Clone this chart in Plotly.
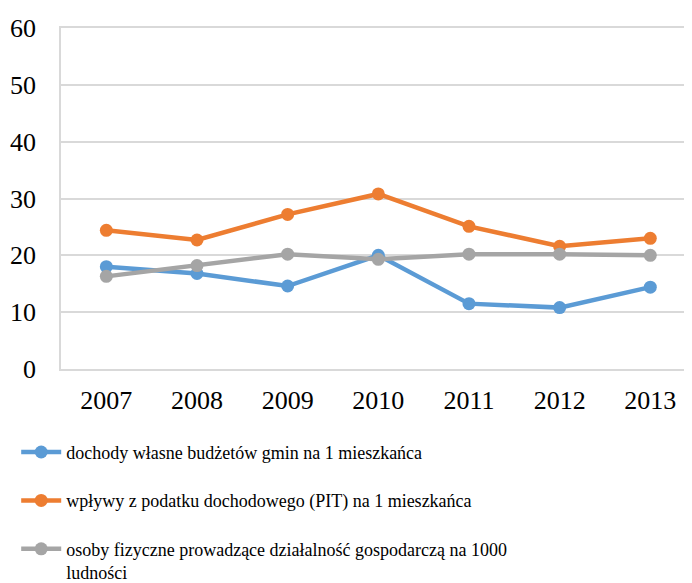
import plotly.graph_objects as go

years = ["2007", "2008", "2009", "2010", "2011", "2012", "2013"]
dochody = [18.0, 16.8, 14.6, 20.0, 11.5, 10.8, 14.4]
pit = [24.4, 22.7, 27.2, 30.8, 25.1, 21.6, 23.0]
osoby = [16.3, 18.2, 20.2, 19.3, 20.2, 20.2, 20.0]

names = [
    "dochody własne budżetów gmin na 1 mieszkańca",
    "wpływy z podatku dochodowego (PIT) na 1 mieszkańca",
    "osoby fizyczne prowadzące działalność gospodarczą na 1000<br>ludności",
]
colors = ["#5b9bd5", "#ed7d31", "#a5a5a5"]
series = [dochody, pit, osoby]

FONT = "Times New Roman"

fig = go.Figure()
for i, (nm, col, vals) in enumerate(zip(names, colors, series)):
    fig.add_trace(go.Scatter(
        x=years, y=vals, name=nm, mode="lines+markers",
        line=dict(color=col, width=4.5),
        marker=dict(color=col, size=13),
        legendgroup=str(i),
    ))

fig.update_layout(
    width=684, height=575,
    margin=dict(l=53, r=0, t=20, b=214, autoexpand=False),
    plot_bgcolor="white", paper_bgcolor="white",
    font=dict(family=FONT, color="black", size=26),
    showlegend=True,
    legend=dict(
        orientation="v", traceorder="grouped", tracegroupgap=22,
        x=-0.071, y=-0.19, xanchor="left", yanchor="top", valign="top",
        font=dict(size=18, family=FONT),
        itemwidth=40, bgcolor="rgba(0,0,0,0)",
    ),
    xaxis=dict(
        type="category", range=[-0.5, 6.46], showgrid=False, zeroline=False,
        showline=True, mirror=True, linecolor="#d9d9d9", linewidth=1.5,
        ticks="", ticklabelstandoff=7, tickangle=0,
        tickfont=dict(size=26),
    ),
    yaxis=dict(
        range=[0, 60], dtick=10, showgrid=True, gridcolor="#d9d9d9", gridwidth=1.5,
        zeroline=False, showline=True, linecolor="#d9d9d9", linewidth=1.5,
        ticks="", ticklabelstandoff=18, tickfont=dict(size=26),
    ),
)

fig.write_html("out.html")
